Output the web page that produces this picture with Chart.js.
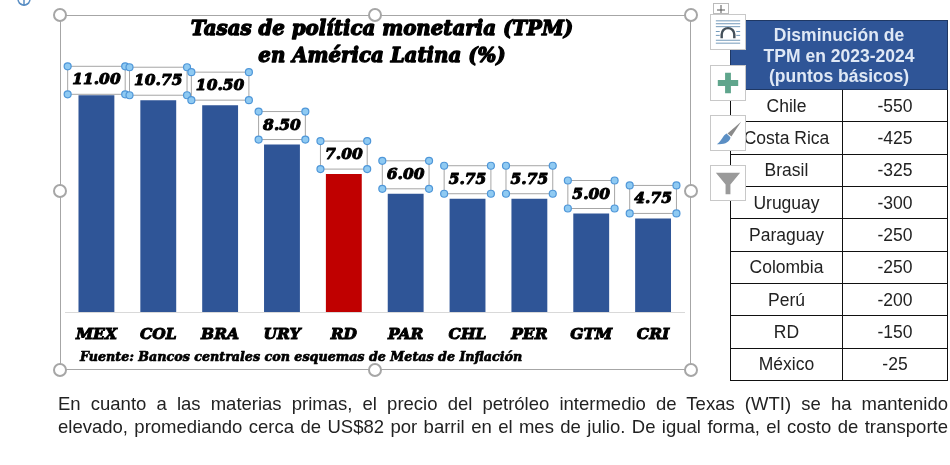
<!DOCTYPE html>
<html>
<head>
<meta charset="utf-8">
<script src="https://cdn.jsdelivr.net/npm/chart.js@4"></script>
<style>
html, body { margin: 0; padding: 0; background: #fff; overflow: hidden; }
#page { position: relative; width: 950px; height: 465px; font-family: "Liberation Sans", Arial, sans-serif; }
#tpmChart { position: absolute; left: 0; top: 0; }
.frame { position: absolute; left: 60px; top: 15px; width: 631px; height: 355px; border: 1.5px solid #a6a6a6; box-sizing: border-box; }
.knob { position: absolute; width: 10px; height: 10px; border: 2px solid #a6a6a6; border-radius: 50%; background: #fff; }
table { position: absolute; left: 730px; top: 20px; width: 217px; height: 361px; border-collapse: collapse; table-layout: fixed; font-size: 17.5px; color: #222; }
th { background: #2f5597; color: #dfe8f5; font-size: 17.5px; line-height: 20.5px; height: 69px; padding: 2px 0 0; box-sizing: border-box; border: 1px solid #1f3864; }
td { border: 1.5px solid #111; text-align: center; padding: 1px 0 0; }
.para { position: absolute; left: 58px; width: 890px; font-size: 18.5px; line-height: 22px; color: #222; white-space: nowrap; text-align: justify; text-align-last: justify; }
.btn { position: absolute; left: 710px; width: 36px; height: 36px; background: #fff; border: 1px solid #c8c8c8; box-sizing: border-box; }
.btn svg { display: block; width: 100%; height: 100%; }
.anchor { position: absolute; left: 16px; top: -8px; }
.move { position: absolute; left: 713px; top: 3px; width: 16px; height: 11px; border: 1px solid #bbb; box-sizing: border-box; background: #fff; }
.move svg { display: block; }
</style>
</head>
<body>
<div id="page">
  <canvas id="tpmChart" width="950" height="465"></canvas>
  <div class="frame"></div>
  <div id="knobs"></div>
  <table id="cutsTable"></table>
  <svg class="anchor" width="16" height="18" viewBox="0 0 16 18"><g fill="none" stroke="#5b8fc4" stroke-width="1.5"><circle cx="8" cy="7" r="6"/><path d="M8 1V14M3 11q5 4 10 0"/></g></svg>
  <div class="move"><svg width="14" height="9" viewBox="0 0 14 9"><path d="M7 1V9M3 6H11" stroke="#555" fill="none"/></svg></div>
  <div class="btn" style="top:14px"><svg viewBox="0 0 35 35"><g stroke="#6f97b8" stroke-width="1" fill="none"><path d="M5 6H30M5 9H30M5 12H30M5 26H30M5 29H30M5 17H9M26 17H30M5 21H9M26 21H30"/><path d="M11 24V20a6.500 6.500 0 0 1 13 0V24" stroke="#44505a" stroke-width="2.500"/></g></svg></div>
  <div class="btn" style="top:65px"><svg viewBox="0 0 35 35"><path d="M14.500 7H20.500V14.500H28V20.500H20.500V28H14.500V20.500H7V14.500H14.500Z" fill="#5fa58c"/></svg></div>
  <div class="btn" style="top:115px"><svg viewBox="0 0 35 35"><path d="M31 6L17 18L21 21Z" fill="#8a8a8a"/><path d="M16 18C12 20 11 26 6 29C13 30 20 27 20 22Z" fill="#5b8fc4"/></svg></div>
  <div class="btn" style="top:165px"><svg viewBox="0 0 35 35"><path d="M5 7H30L20 19V29H15V19Z" fill="#9a9a9a"/></svg></div>
  <div class="para" style="top:393px">En cuanto a las materias primas, el precio del petróleo intermedio de Texas (WTI) se ha mantenido</div>
  <div class="para" style="top:416px">elevado, promediando cerca de US$82 por barril en el mes de julio. De igual forma, el costo de transporte</div>
</div>
<script>
const categories = ['MEX', 'COL', 'BRA', 'URY', 'RD', 'PAR', 'CHL', 'PER', 'GTM', 'CRI'];
const tpmValues = [11.00, 10.75, 10.50, 8.50, 7.00, 6.00, 5.75, 5.75, 5.00, 4.75];
const titleLines = ['Tasas de política monetaria (TPM)', 'en América Latina (%)'];
const sourceNote = 'Fuente: Bancos centrales con esquemas de Metas de Inflación';

const tableHeader = ['Disminución de', 'TPM en 2023-2024', '(puntos básicos)'];
const tableCountries = ['Chile', 'Costa Rica', 'Brasil', 'Uruguay', 'Paraguay', 'Colombia', 'Perú', 'RD', 'México'];
const tableCuts = [-550, -425, -325, -300, -250, -250, -200, -150, -25];

const heavyFamily = '"DejaVu Serif"';
const BLUE = '#2f5597';
const RED = '#c00000';

// tabla lateral
const cutsTable = document.getElementById('cutsTable');
let rowsHtml = `<colgroup><col style="width:112px"><col style="width:105px"></colgroup>`;
rowsHtml += `<tr><th colspan="2">${tableHeader.join('<br>')}</th></tr>`;
tableCountries.forEach((name, i) => {
    rowsHtml += `<tr><td>${name}</td><td>${tableCuts[i]}</td></tr>`;
});
cutsTable.innerHTML = rowsHtml;

// circulos del marco de seleccion
const knobSpots = [[60, 15], [375, 15], [691, 15], [60, 191], [691, 191], [60, 370], [375, 370], [691, 370]];
document.getElementById('knobs').innerHTML = knobSpots
    .map(p => `<div class="knob" style="left:${p[0] - 7}px;top:${p[1] - 7}px"></div>`).join('');

function fatText(ctx, text, x, y, font, strokeWidth) {
    ctx.font = font;
    ctx.fillStyle = '#000';
    ctx.strokeStyle = '#000';
    ctx.lineWidth = strokeWidth;
    ctx.lineJoin = 'round';
    ctx.strokeText(text, x, y);
    ctx.fillText(text, x, y);
}

const notesPlugin = {
    id: 'notes',
    afterDraw(chart) {
        const ctx = chart.ctx;
        ctx.save();
        ctx.textAlign = 'center';
        ctx.textBaseline = 'middle';
        fatText(ctx, titleLines[0], 382, 30, `italic bold 19.8px ${heavyFamily}`, 1.3);
        fatText(ctx, titleLines[1], 382, 57, `italic bold 19.8px ${heavyFamily}`, 1.3);
        ctx.textAlign = 'left';
        fatText(ctx, sourceNote, 80, 358, `italic bold 12.7px ${heavyFamily}`, 0.7);

        // etiquetas de valor con su caja seleccionada
        chart.getDatasetMeta(0).data.forEach((bar, i) => {
            const label = tpmValues[i].toFixed(2);
            const font = `italic bold 15.5px ${heavyFamily}`;
            ctx.font = font;
            const w = ctx.measureText(label).width + 9;
            const gap = i === 0 ? 1 : 5;
            const x0 = bar.x - w / 2, y1 = bar.y - gap, y0 = y1 - 28;
            ctx.strokeStyle = '#a6a6a6';
            ctx.lineWidth = 1;
            ctx.strokeRect(x0, y0, w, 28);
            ctx.textAlign = 'center';
            fatText(ctx, label, bar.x, y0 + 14, font, 1);
            [[x0, y0], [x0 + w, y0], [x0, y1], [x0 + w, y1]].forEach(c => {
                ctx.beginPath();
                ctx.arc(c[0], c[1], 3.5, 0, Math.PI * 2);
                ctx.fillStyle = '#8fcaf2';
                ctx.fill();
                ctx.strokeStyle = '#4f97d9';
                ctx.lineWidth = 1.2;
                ctx.stroke();
            });
        });
        ctx.restore();
    }
};

new Chart(document.getElementById('tpmChart').getContext('2d'), {
    type: 'bar',
    data: {
        labels: categories,
        datasets: [{
            data: tpmValues,
            backgroundColor: categories.map(c => c === 'RD' ? RED : BLUE),
            categoryPercentage: 1,
            barPercentage: 0.58
        }]
    },
    options: {
        responsive: false,
        animation: false,
        layout: { padding: { left: 65.5, right: 266, top: 75.6, bottom: 0 } },
        plugins: { legend: { display: false }, tooltip: { enabled: false } },
        scales: {
            y: { display: false, min: 0, max: 12 },
            x: {
                afterFit(scale) { scale.height = 153; },
                grid: { display: false, drawTicks: false },
                border: { color: '#d9d9d9', width: 1 },
                ticks: {
                    color: '#000',
                    padding: 14,
                    maxRotation: 0,
                    font: { family: heavyFamily, size: 15.5, weight: 'bold', style: 'italic' },
                    textStrokeColor: '#000',
                    textStrokeWidth: 1
                }
            }
        }
    },
    plugins: [notesPlugin]
});
</script>
</body>
</html>
